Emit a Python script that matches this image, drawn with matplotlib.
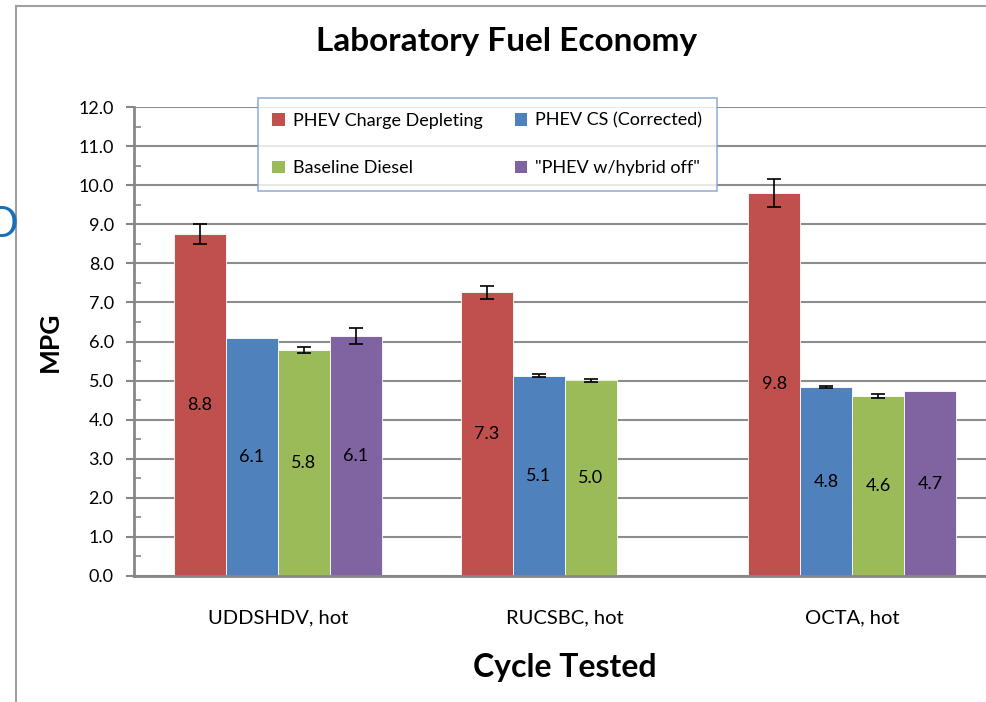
import numpy as np
import matplotlib
matplotlib.use("Agg")
import matplotlib.pyplot as plt
from matplotlib.lines import Line2D
from matplotlib.patches import Patch

plt.rcParams['font.family'] = ['Lato', 'DejaVu Sans']

cycles = ["UDDSHDV, hot", "RUCSBC, hot", "OCTA, hot"]
series = ["PHEV Charge Depleting", "PHEV CS (Corrected)",
          "Baseline Diesel", "\"PHEV w/hybrid off\""]
colors = ["#C0504D", "#4F81BD", "#9BBB59", "#8064A2"]

# values per series (nan = no bar)
cd_mpg = [8.75, 7.26, 9.80]
cs_mpg = [6.10, 5.12, 4.83]
diesel_mpg = [5.78, 5.01, 4.60]
hyoff_mpg = [6.14, np.nan, 4.73]

cd_err = [0.25, 0.17, 0.35]
cs_err = [0.0, 0.04, 0.03]
diesel_err = [0.07, 0.04, 0.05]
hyoff_err = [0.20, 0.0, 0.0]

bar_labels = [["8.8", "7.3", "9.8"],
              ["6.1", "5.1", "4.8"],
              ["5.8", "5.0", "4.6"],
              ["6.1", "", "4.7"]]

values = [cd_mpg, cs_mpg, diesel_mpg, hyoff_mpg]
errors = [cd_err, cs_err, diesel_err, hyoff_err]

W, H = 987, 702
fig = plt.figure(figsize=(W / 100, H / 100), dpi=100)

# axes in pixel terms: x from 134.5 to 995.5, y from 107 (12.0) to 576 (0.0)
ax = fig.add_axes([134.5 / W, 1 - 576 / H, (995.5 - 134.5) / W, (576 - 107) / H])

x = np.arange(len(cycles))
bw = 0.181
offsets = (np.arange(4) - 1.5) * bw

for i in range(4):
    v = np.array(values[i], dtype=float)
    ax.bar(x + offsets[i], v, bw, color=colors[i], edgecolor="white",
           linewidth=0.6, zorder=3)
    e = np.array(errors[i])
    mask = (~np.isnan(v)) & (e > 0)
    ax.errorbar((x + offsets[i])[mask], v[mask], yerr=e[mask], fmt="none",
                ecolor="black", elinewidth=1.2, capsize=5, capthick=1.2, zorder=4)
    for j in range(len(cycles)):
        if bar_labels[i][j]:
            ax.text(x[j] + offsets[i], v[j] / 2, bar_labels[i][j], ha="center",
                    va="center", fontsize=13, color="black", zorder=5)

ax.set_xlim(-0.5, 2.5)
ax.set_ylim(0, 12)
ax.set_yticks(np.arange(0, 12.1, 1.0))
ax.set_yticklabels(["%.1f" % t for t in np.arange(0, 12.1, 1.0)], fontsize=13)
ax.set_yticks(np.arange(0.5, 12, 1.0), minor=True)
ax.set_xticks(x)
ax.set_xticklabels(cycles, fontsize=14.5)
ax.tick_params(axis="x", length=0, pad=24)
ax.tick_params(axis="y", which="major", length=6, width=1.5, color="#878787",
               direction="out", pad=9)
ax.tick_params(axis="y", which="minor", length=5, width=1.2, color="#878787",
               direction="in")
ax.grid(axis="y", color="#8c8c8c", linewidth=1.5, zorder=0)
for s in ["top", "right"]:
    ax.spines[s].set_visible(False)
for s in ["left", "bottom"]:
    ax.spines[s].set_color("#878787")
    ax.spines[s].set_linewidth(2)
ax.spines["bottom"].set_zorder(6)

ax.set_ylabel("MPG", fontsize=19, fontweight="bold", labelpad=12)
fig.text(565 / W, 1 - 668 / H, "Cycle Tested", ha="center", va="center",
         fontsize=23, fontweight="bold")
fig.text(507 / W, 1 - 42 / H, "Laboratory Fuel Economy", ha="center",
         va="center", fontsize=24, fontweight="bold")

# legend fills column by column, so order for row-wise reading
order = [0, 2, 1, 3]
handles = [Patch(facecolor=colors[k], edgecolor="none") for k in order]
leg = fig.legend(handles, [series[k] for k in order], loc="upper left",
                 bbox_to_anchor=(258 / W, 1 - 98 / H), ncol=2, fontsize=13,
                 frameon=True, fancybox=False, handlelength=0.7,
                 handleheight=0.7, handletextpad=0.45, columnspacing=1.75,
                 labelspacing=1.75, borderpad=0.8, borderaxespad=0)
leg.get_frame().set_edgecolor("#7a9fd0")
leg.get_frame().set_linewidth(1.2)

# outer chart frame (left and top) and slide remnant
fig.add_artist(Line2D([16 / W, 16 / W], [0, 1 - 6 / H], color="#a0a0a0",
                      linewidth=1.5))
fig.add_artist(Line2D([16 / W, 1], [1 - 6 / H, 1 - 6 / H], color="#a0a0a0",
                      linewidth=1.5))
fig.text(-14 / W, 1 - 225 / H, "D", ha="left", va="center", fontsize=30,
         color="#1b6fb5")

fig.savefig("out.png", dpi=100)
